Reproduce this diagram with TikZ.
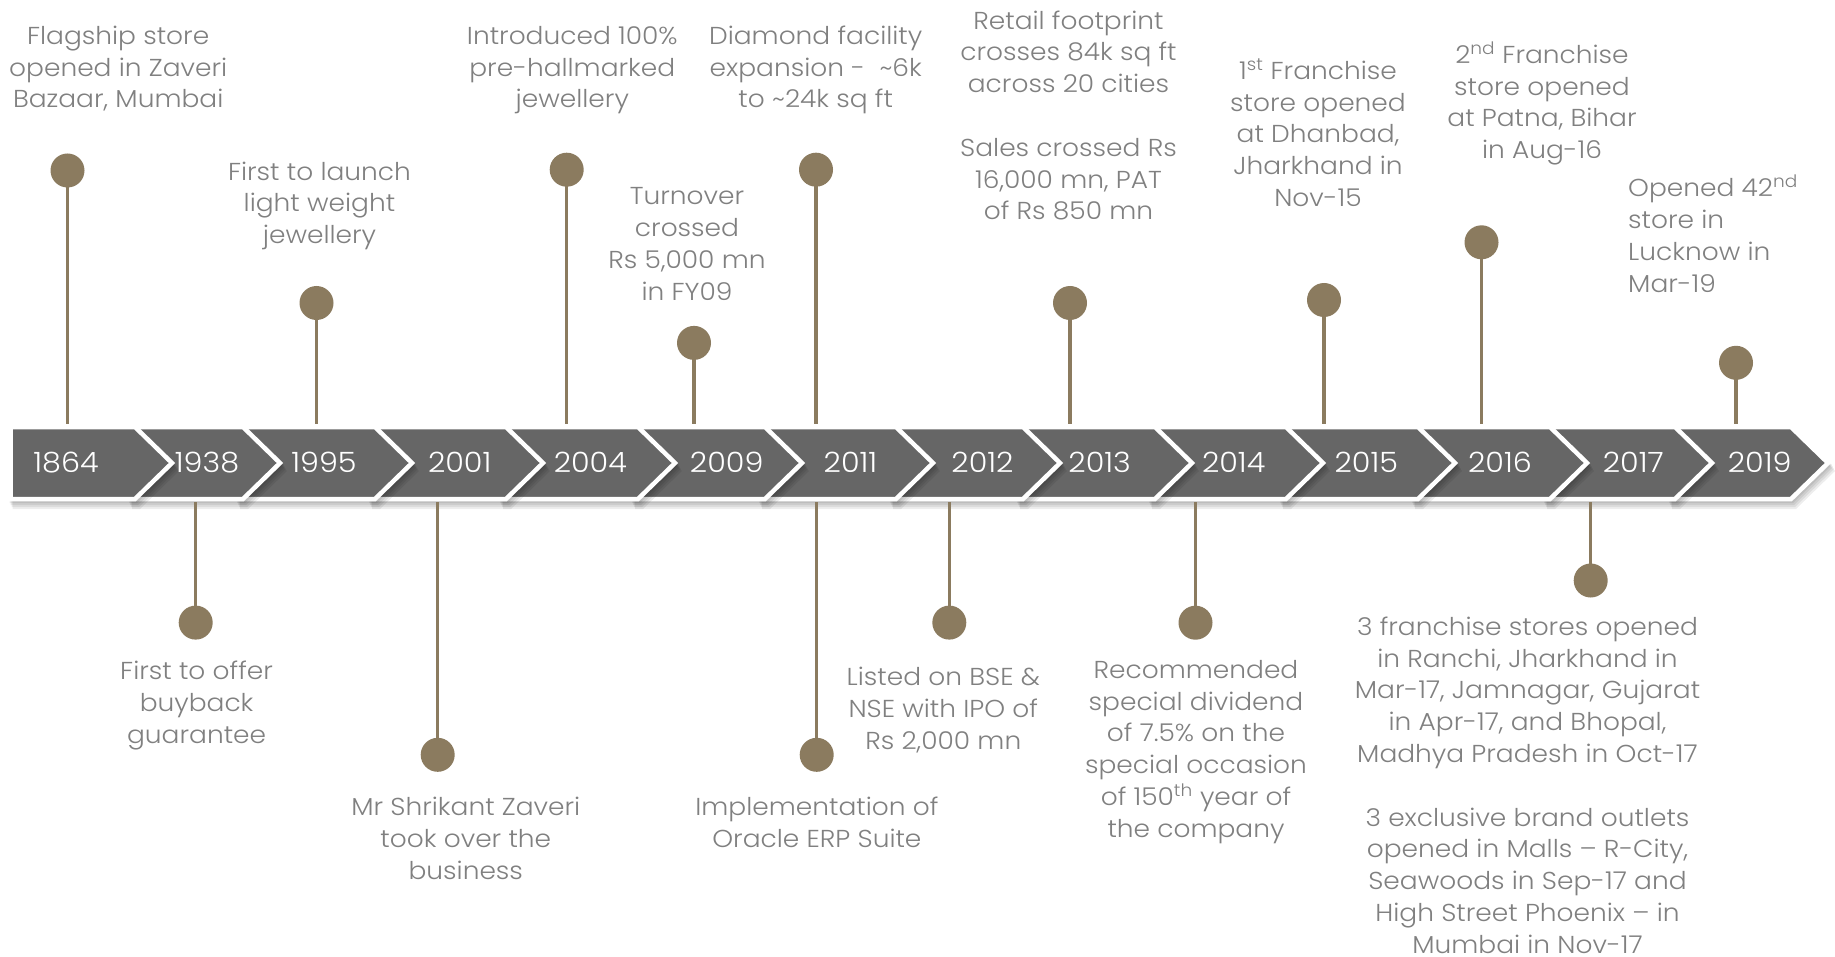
\documentclass[tikz,border=0pt]{standalone}
\usepackage{fontspec}
\setmainfont{Poppins}[FakeStretch=1.08, UprightFont=* Light]
\definecolor{gold}{RGB}{139,123,95}
\definecolor{bandgrey}{RGB}{102,102,102}
\definecolor{txt}{RGB}{128,128,128}
\newcommand\mychev[3]{%
  \foreach \dd in {2,4,6,8}{%
    \fill[black,opacity=0.07] (#1+\dd*0.5-2,425+\dd) -- (#2+\dd*0.5+1,425+\dd) -- (#3+\dd*0.5+3,463+\dd) -- (#2+\dd*0.5+1,501+\dd) -- (#1+\dd*0.5-2,501+\dd) -- cycle;}
  \path[chev] (#1,427) -- (#2,427) -- (#3,463) -- (#2,499) -- (#1,499) -- cycle;}
\begin{document}
\begin{tikzpicture}[x=1pt,y=-1pt,
  desc/.style={text=txt, font=\fontsize{24.5}{31.8}\selectfont, align=center, anchor=base, inner sep=0pt},
  yr/.style={text=white, font=\fontsize{28}{30}\selectfont, anchor=base, inner sep=0pt},
  dot/.style={circle, fill=gold, minimum size=34pt, inner sep=0pt},
  stem/.style={draw=gold, line width=3.5pt},
  chev/.style={fill=bandgrey, draw=white, line width=4.5pt, line join=miter}]
\useasboundingbox[fill=white] (0,0) rectangle (1835,957);

% chevron band (drawn right to left so each earlier one overlaps the next)
\mychev{1670}{1791}{1828}
\mychev{1545}{1675}{1712}
\mychev{1413}{1550}{1587}
\mychev{1281}{1418}{1455}
\mychev{1150}{1286}{1323}
\mychev{1018}{1155}{1192}
\mychev{891}{1023}{1060}
\mychev{760}{896}{933}
\mychev{633}{765}{802}
\mychev{501}{638}{675}
\mychev{370}{506}{543}
\mychev{238}{375}{412}
\mychev{130}{243}{280}
\mychev{10.5}{135}{172}

% year labels
\node[yr] (y1864) at (66,472) {1864};
\node[yr] (y1938) at (207,472) {1938};
\node[yr] (y1995) at (324,472) {1995};
\node[yr] (y2001) at (459.7,472) {2001};
\node[yr] (y2004) at (590.3,472) {2004};
\node[yr] (y2009) at (726.7,472) {2009};
\node[yr] (y2011) at (850.5,472) {2011};
\node[yr] (y2012) at (982.5,472) {2012};
\node[yr] (y2013) at (1099.7,472) {2013};
\node[yr] (y2014) at (1233.7,472) {2014};
\node[yr] (y2015) at (1366.3,472) {2015};
\node[yr] (y2016) at (1500,472) {2016};
\node[yr] (y2017) at (1633.3,472) {2017};
\node[yr] (y2019) at (1759.7,472) {2019};

% band attachment points
\coordinate (s1864) at (67.5,424);
\coordinate (s1938) at (195.7,502);
\coordinate (s1995) at (316.5,424);
\coordinate (s2001) at (437.7,502);
\coordinate (s2004) at (566.7,424);
\coordinate (s2009) at (694,424);
\coordinate (s2011a) at (816,424);
\coordinate (s2011b) at (816.7,502);
\coordinate (s2012) at (949.3,502);
\coordinate (s2013) at (1070,424);
\coordinate (s2014) at (1195.5,502);
\coordinate (s2015) at (1324,424);
\coordinate (s2016) at (1481.5,424);
\coordinate (s2017) at (1590.7,502);
\coordinate (s2019) at (1736,424);

% dots
\node[dot] (d1864) at (67.5,170.5) {};
\node[dot] (d1938) at (195.7,622.6) {};
\node[dot] (d1995) at (316.5,303) {};
\node[dot] (d2001) at (437.7,754.8) {};
\node[dot] (d2004) at (566.7,169.7) {};
\node[dot] (d2009) at (694,342.9) {};
\node[dot] (d2011a) at (816,169.7) {};
\node[dot] (d2011b) at (816.7,754.8) {};
\node[dot] (d2012) at (949.3,622.6) {};
\node[dot] (d2013) at (1070,303) {};
\node[dot] (d2014) at (1195.5,622.7) {};
\node[dot] (d2015) at (1324,300) {};
\node[dot] (d2016) at (1481.5,242.3) {};
\node[dot] (d2017) at (1590.7,580.5) {};
\node[dot] (d2019) at (1736,362.8) {};

% stems
\foreach \k in {1864,1938,1995,2001,2004,2009,2011a,2011b,2012,2013,2014,2015,2016,2017,2019}
  \draw[stem] (d\k.center) -- (s\k);

% descriptions (anchor = baseline of the last line)
\node[desc] (t1864) at (118.2,108) {Flagship store\\opened in Zaveri\\Bazaar, Mumbai};
\node[desc] (t1995) at (319.5,243.8) {First to launch\\light weight\\jewellery};
\node[desc] (t2004) at (572.3,108) {Introduced 100\%\\pre-hallmarked\\jewellery};
\node[desc] (t2009) at (687,300.1) {Turnover\\crossed\\Rs 5,000 mn\\in FY09};
\node[desc] (t2011a) at (815.7,108) {Diamond facility\\expansion -\ \ \textasciitilde6k\\to \textasciitilde24k sq ft};
\node[desc] (t2013) at (1068.5,220) {Retail footprint\\crosses 84k sq ft\\across 20 cities\\[31.8pt]Sales crossed Rs\\16,000 mn, PAT\\of Rs 850 mn};
\node[desc] (t2015) at (1318,206.5) {1\textsuperscript{st} Franchise\\store opened\\at Dhanbad,\\Jharkhand in\\Nov-15};
\node[desc] (t2016) at (1542,158.7) {2\textsuperscript{nd} Franchise\\store opened\\at Patna, Bihar\\in Aug-16};
\node[desc, align=left, anchor=base west] (t2019) at (1628,292.1) {Opened 42\textsuperscript{nd}\\store in\\Lucknow in\\Mar-19};
\node[desc] (t1938) at (196.6,743.5) {First to offer\\buyback\\guarantee};
\node[desc] (t2001) at (465.8,879.2) {Mr Shrikant Zaveri\\took over the\\business};
\node[desc] (t2011b) at (816.9,847.4) {Implementation of\\Oracle ERP Suite};
\node[desc] (t2012) at (943.3,749.3) {Listed on BSE \&\\NSE with IPO of\\Rs 2,000 mn};
\node[desc] (t2014) at (1196,837.3) {Recommended\\special dividend\\of 7.5\% on the\\special occasion\\of 150\textsuperscript{th} year of\\the company};
\node[desc] (t2017) at (1527.5,953.2) {3 franchise stores opened\\in Ranchi, Jharkhand in\\Mar-17, Jamnagar, Gujarat\\in Apr-17, and Bhopal,\\Madhya Pradesh in Oct-17\\[31.8pt]3 exclusive brand outlets\\opened in Malls – R-City,\\Seawoods in Sep-17 and\\High Street Phoenix – in\\Mumbai in Nov-17};
\end{tikzpicture}
\end{document}
